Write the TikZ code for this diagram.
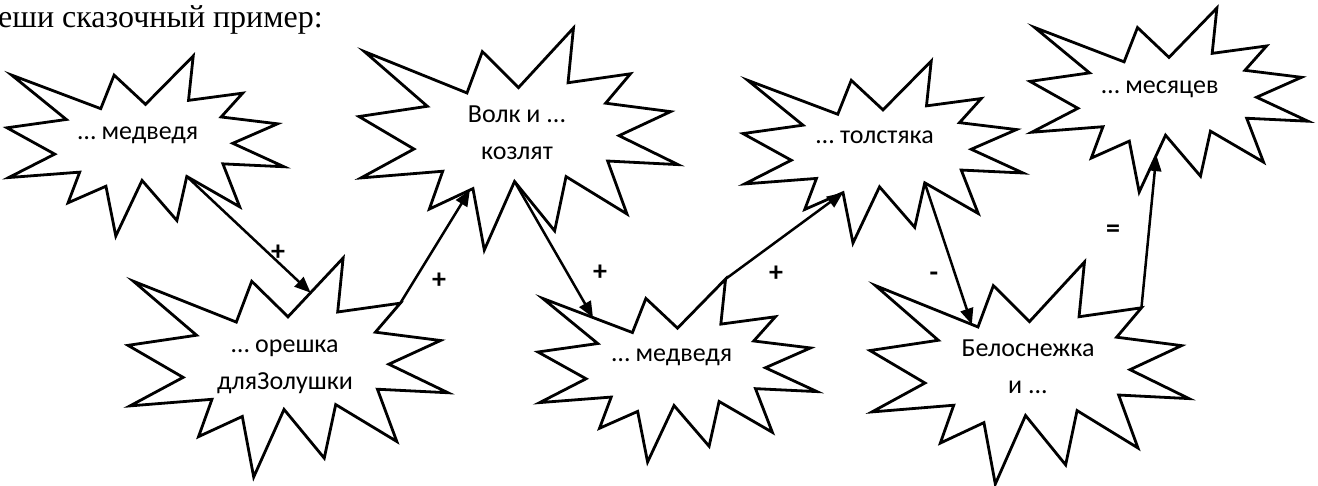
\documentclass[tikz,border=0pt]{standalone}
\usepackage{fontspec}
\setmainfont{Liberation Serif}
\newfontfamily\calfont{Carlito}
\usetikzlibrary{arrows.meta,calc}

\tikzset{
  burstline/.style={draw=black,line width=2.8pt,line join=miter},
  txt/.style={font=\calfont\fontsize{26}{37}\selectfont,align=center,inner sep=0pt},
  opl/.style={font=\calfont\bfseries\fontsize{28}{30}\selectfont,inner sep=0pt},
  titletxt/.style={font=\fontsize{32}{36}\selectfont,inner sep=0pt},
  conn/.style={line width=2.5pt,-{Triangle[length=16pt,width=13pt]}},
}

\newcommand{\burstshape}[5]{%
  \begin{scope}[shift={(#2,#3)},x=#4pt,y=-#5pt]
    \draw[burstline]
      (0.5,0.2685) coordinate (#1-1) --
      (0.6723,0) coordinate (#1-2) --
      (0.6553,0.2465) coordinate (#1-3) --
      (0.8509,0.2063) coordinate (#1-4) --
      (0.7732,0.3387) coordinate (#1-5) --
      (0.9767,0.3767) coordinate (#1-6) --
      (0.8151,0.4850) coordinate (#1-7) --
      (1,0.6153) coordinate (#1-8) --
      (0.7795,0.5992) coordinate (#1-9) --
      (0.8400,0.8377) coordinate (#1-10) --
      (0.6491,0.6693) coordinate (#1-11) --
      (0.6133,0.9138) coordinate (#1-12) --
      (0.4876,0.6914) coordinate (#1-13) --
      (0.3928,1) coordinate (#1-14) --
      (0.3572,0.7235) coordinate (#1-15) --
      (0.2205,0.8156) coordinate (#1-16) --
      (0.2624,0.6452) coordinate (#1-17) --
      (0.00625,0.6753) coordinate (#1-18) --
      (0.1723,0.5451) coordinate (#1-19) --
      (0,0.3988) coordinate (#1-20) --
      (0.2142,0.3526) coordinate (#1-21) --
      (0.01713,0.1063) coordinate (#1-22) --
      (0.3385,0.2926) coordinate (#1-23) --
      (0.3867,0.1063) coordinate (#1-24) -- cycle;
  \end{scope}}

\begin{document}
\begin{tikzpicture}[x=1pt,y=-1pt]
  \useasboundingbox (0,0) rectangle (1318,485);

  % title
  \node[titletxt,anchor=base west] (title) at (-2,27) {еши сказочный пример:};

  % bursts
  \burstshape{s1}{7}{56}{277}{180}
  \burstshape{s2}{128}{258}{320}{219}
  \burstshape{s3}{359}{28}{319}{222}
  \burstshape{s4}{538}{279}{279}{183}
  \burstshape{s5}{743}{61}{280}{182}
  \burstshape{s6}{1030}{8}{278}{184}
  \burstshape{s7}{870}{262}{319}{222}

  % texts (base anchor = baseline of last line)
  \node[txt,anchor=base] (t1) at (138,139.5) {… медведя};
  \node[txt,anchor=base] (t2) at (285,389) {… орешка\\дляЗолушки};
  \node[txt,anchor=base] (t3) at (517,159.5) {Волк и ...\\козлят};
  \node[txt,anchor=base] (t4) at (672,361.5) {… медведя};
  \node[txt,anchor=base] (t5) at (875,143.5) {… толстяка};
  \node[txt,anchor=base] (t6) at (1160,93) {… месяцев};
  \node[txt,anchor=base] (t7) at (1028,393) {Белоснежка\\и ...};

  % operator labels
  \node[opl] (o1) at (278,253) {+};
  \node[opl] (o2) at (439,281) {+};
  \node[opl] (o3) at (600,273) {+};
  \node[opl] (o4) at (776,274) {+};
  \node[opl] (o5) at (934,277) {-};
  \node[opl] (o6) at (1113,231) {=};

  % connectors
  \draw[conn] (s1-11) -- ($(s2-1)!0.41!(s2-2)$);
  \draw[conn] (s2-4) -- ($(s3-15)!0.07!(s3-16)$);
  \draw[conn] (s3-13) -- ($(s4-22)!0.56!(s4-23)$);
  \draw[conn] (s4-2) -- (s5-15);
  \draw[conn] (s5-11) -- ($(s7-23)!0.06!(s7-22)$);
  \draw[conn] (s7-4) -- ($(s6-13)!0.35!(s6-14)$);
\end{tikzpicture}
\end{document}
